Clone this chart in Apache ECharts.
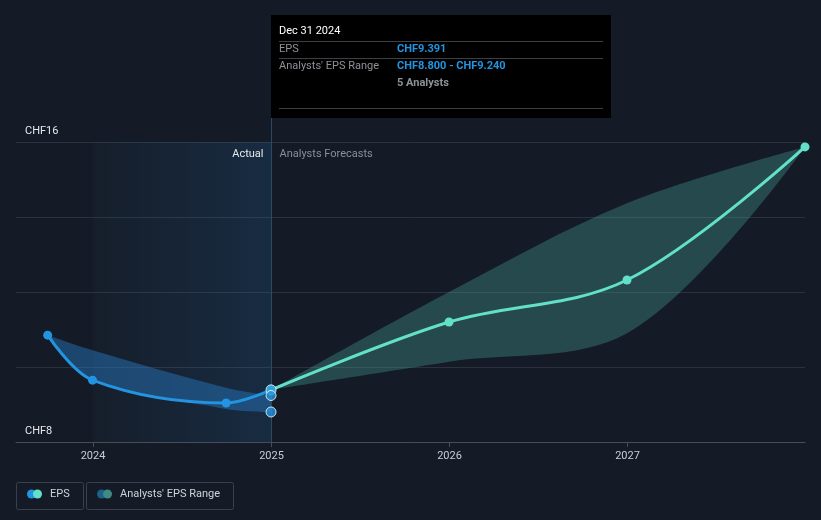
<!DOCTYPE html>
<html><head><meta charset="utf-8">
<script src="https://cdn.jsdelivr.net/npm/echarts@6/dist/echarts.min.js"></script>
<style>html,body{margin:0;padding:0;background:#151b26}#c{width:821px;height:520px}</style>
</head><body><div id="c"></div>
<script>
// ---- data ----
const actualDates = ['2023-09-30', '2023-12-31', '2024-09-30', '2024-12-31'];
const actualEps = [10.85, 9.65, 9.04, 9.391];
const actualRangeLow = [10.85, 9.7, 8.88, 8.8];
const actualRangeHigh = [10.85, 10.45, 9.45, 9.24];
const forecastDates = ['2024-12-31', '2025-12-31', '2026-12-31', '2027-12-31'];
const forecastEps = [9.391, 11.2, 12.32, 15.87];
const forecastLow = [9.391, 10.14, 10.9, 15.87];
const forecastHigh = [9.391, 12.0, 14.37, 15.87];
const latestDate = '2024-12-31';
const latestPoints = [9.391, 9.24, 8.8];
const yearTicks = ['2024-01-01', '2025-01-01', '2026-01-01', '2027-01-01'];
const yLabelValues = [8, 16];
const xMin = '2023-07-27', xMax = '2027-12-31';

function t(s) { const p = s.split('-').map(Number); return new Date(p[0], p[1] - 1, p[2]).getTime(); }
const pairs = (d, v) => d.map((x, i) => [t(x), v[i]]);
const diffs = (d, lo, hi) => d.map((x, i) => [t(x), +(hi[i] - lo[i]).toFixed(4)]);

const FONT = 'Roboto, "Noto Sans", sans-serif';
const chart = echarts.init(document.getElementById('c'));
const option = {
  backgroundColor: '#151b26',
  animation: false,
  textStyle: { fontFamily: FONT },
  grid: { left: 16, right: 16, top: 142, bottom: 78 },
  xAxis: [{
    type: 'time', min: t(xMin), max: t(xMax), position: 'bottom',
    axisLine: { show: false }, axisTick: { show: false }, axisLabel: { show: false }, splitLine: { show: false }
  }, {
    type: 'value', min: t(xMin), max: t(xMax), position: 'bottom',
    axisLine: { lineStyle: { color: '#474e59', width: 1 } },
    axisTick: { show: true, customValues: yearTicks.map(t), length: 5, lineStyle: { color: '#474e59' } },
    axisLabel: { customValues: yearTicks.map(t), formatter: v => String(new Date(v).getFullYear()), color: '#c9cdd3', fontSize: 11, margin: 9, fontFamily: FONT },
    splitLine: { show: false }
  }],
  yAxis: {
    type: 'value', min: 8, max: 16, interval: 2,
    axisLine: { show: false }, axisTick: { show: false },
    axisLabel: {
      inside: true, margin: 9, verticalAlign: 'bottom', padding: [0, 0, 5, 0],
      color: '#e6e8eb', fontSize: 11, fontFamily: FONT,
      formatter: v => yLabelValues.indexOf(v) >= 0 ? 'CHF' + v : ''
    },
    splitLine: { lineStyle: { color: '#2b323d', width: 1 } }
  },
  series: [
    { type: 'line', name: 'aLow', data: pairs(actualDates, actualRangeLow), stack: 'ar', smooth: 0.35, symbol: 'none', lineStyle: { opacity: 0 }, silent: true,
      markArea: { silent: true, itemStyle: { color: new echarts.graphic.LinearGradient(0, 0, 1, 0, [{ offset: 0, color: 'rgba(35,120,190,0.03)' }, { offset: 1, color: 'rgba(35,120,190,0.18)' }]) },
        data: [[{ xAxis: t('2024-01-01') }, { xAxis: t(latestDate) }]] } },
    { type: 'line', name: 'aBand', data: diffs(actualDates, actualRangeLow, actualRangeHigh), stack: 'ar', smooth: 0.35, symbol: 'none', lineStyle: { opacity: 0 }, areaStyle: { color: 'rgba(40,125,200,0.45)', opacity: 1 }, silent: true },
    { type: 'line', name: 'fLow', data: pairs(forecastDates, forecastLow), stack: 'fr', smooth: 0.35, symbol: 'none', lineStyle: { opacity: 0 }, silent: true },
    { type: 'line', name: 'fBand', data: diffs(forecastDates, forecastLow, forecastHigh), stack: 'fr', smooth: 0.35, symbol: 'none', lineStyle: { opacity: 0 }, areaStyle: { color: 'rgba(80,200,185,0.27)', opacity: 1 }, silent: true },
    { type: 'line', name: 'EPS', data: pairs(actualDates, actualEps), smooth: 0.35, symbol: 'circle', symbolSize: 9, showAllSymbol: true,
      lineStyle: { color: '#2394df', width: 3 }, itemStyle: { color: '#2394df' }, z: 5 },
    { type: 'line', name: 'Forecast', data: pairs(forecastDates, forecastEps), smooth: 0.35, symbol: 'circle', symbolSize: 9, showAllSymbol: true,
      lineStyle: { color: '#62e0c9', width: 3 }, itemStyle: { color: '#62e0c9' }, z: 5 },
    { type: 'scatter', name: 'latest', data: latestPoints.map(v => [t(latestDate), v]), symbolSize: 10,
      itemStyle: { color: '#2394df', borderColor: '#ffffff', borderWidth: 1 }, z: 6 }
  ]
};
chart.setOption(option);

const lx = Math.round(chart.convertToPixel({ xAxisIndex: 0 }, t(latestDate))) + 0.5;
const yTop = chart.convertToPixel({ yAxisIndex: 0 }, 16);
const yBot = chart.convertToPixel({ yAxisIndex: 0 }, 8);
const tipL = lx - 0.5, tipT = 15, tipW = 340, tipH = 103;

chart.setOption({
  graphic: [
    { type: 'line', shape: { x1: lx, y1: tipT + tipH, x2: lx, y2: yBot }, style: { stroke: '#2d4862', lineWidth: 1 }, z: 1, silent: true },
    { type: 'rect', shape: { x: tipL, y: tipT, width: tipW, height: tipH }, style: { fill: '#000000' }, z: 10, silent: true },
    { type: 'text', x: tipL + 8, y: 31, style: { text: 'Dec 31 2024', fill: '#ffffff', font: '11px ' + FONT, verticalAlign: 'middle' }, z: 11 },
    { type: 'line', shape: { x1: tipL + 8, y1: 41.5, x2: tipL + tipW - 8, y2: 41.5 }, style: { stroke: '#3c3f44', lineWidth: 1 }, z: 11 },
    { type: 'text', x: tipL + 8, y: 49, style: { text: 'EPS', fill: '#8e9298', font: '11px ' + FONT, verticalAlign: 'middle' }, z: 11 },
    { type: 'text', x: tipL + 126, y: 49, style: { text: 'CHF9.391', fill: '#2394df', font: 'bold 11px ' + FONT, verticalAlign: 'middle' }, z: 11 },
    { type: 'line', shape: { x1: tipL + 8, y1: 58.5, x2: tipL + tipW - 8, y2: 58.5 }, style: { stroke: '#3c3f44', lineWidth: 1 }, z: 11 },
    { type: 'text', x: tipL + 8, y: 66, style: { text: "Analysts' EPS Range", fill: '#8e9298', font: '11px ' + FONT, verticalAlign: 'middle' }, z: 11 },
    { type: 'text', x: tipL + 126, y: 66, style: { text: 'CHF8.800 - CHF9.240', fill: '#2394df', font: 'bold 11px ' + FONT, verticalAlign: 'middle' }, z: 11 },
    { type: 'text', x: tipL + 126, y: 83, style: { text: '5 Analysts', fill: '#8e9298', font: 'bold 11px ' + FONT, verticalAlign: 'middle' }, z: 11 },
    { type: 'line', shape: { x1: tipL + 8, y1: 108.5, x2: tipL + tipW - 8, y2: 108.5 }, style: { stroke: '#3c3f44', lineWidth: 1 }, z: 11 },
    { type: 'text', x: lx - 8, y: yTop + 12, style: { text: 'Actual', fill: '#e6e8eb', font: '11px ' + FONT, align: 'right', verticalAlign: 'middle' }, z: 4 },
    { type: 'text', x: lx + 8, y: yTop + 12, style: { text: 'Analysts Forecasts', fill: '#8a8f96', font: '11px ' + FONT, align: 'left', verticalAlign: 'middle' }, z: 4 },
    // legend
    { type: 'rect', shape: { x: 16.5, y: 482.5, width: 67, height: 27, r: 2 }, style: { fill: 'none', stroke: '#3a414c', lineWidth: 1 }, z: 4 },
    { type: 'circle', shape: { cx: 31.5, cy: 494, r: 4.5 }, style: { fill: '#2394df' }, z: 4 },
    { type: 'circle', shape: { cx: 37.5, cy: 494, r: 4.5 }, style: { fill: '#62e0c9' }, z: 5 },
    { type: 'text', x: 50, y: 494, style: { text: 'EPS', fill: '#cfd3d8', font: '11px ' + FONT, verticalAlign: 'middle' }, z: 4 },
    { type: 'rect', shape: { x: 86.5, y: 482.5, width: 147, height: 27, r: 2 }, style: { fill: 'none', stroke: '#3a414c', lineWidth: 1 }, z: 4 },
    { type: 'circle', shape: { cx: 101.5, cy: 494, r: 4.5 }, style: { fill: '#1f5f8e' }, z: 4 },
    { type: 'circle', shape: { cx: 107.5, cy: 494, r: 4.5 }, style: { fill: '#3f8a83' }, z: 5 },
    { type: 'text', x: 120, y: 494, style: { text: "Analysts' EPS Range", fill: '#cfd3d8', font: '11px ' + FONT, verticalAlign: 'middle' }, z: 4 }
  ]
});
</script></body></html>
